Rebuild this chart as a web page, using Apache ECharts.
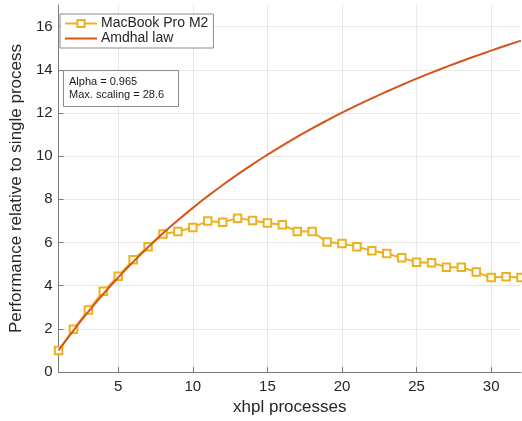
<!DOCTYPE html>
<html>
<head>
<meta charset="utf-8">
<script src="https://cdn.jsdelivr.net/npm/echarts@6/dist/echarts.min.js"></script>
<style>
  html, body { margin: 0; padding: 0; background: #fff; }
  #chart { width: 522px; height: 421px; }
</style>
</head>
<body>
<div id="chart"></div>
<script>
// Number of xhpl processes
const processes = [1,2,3,4,5,6,7,8,9,10,11,12,13,14,15,16,17,18,19,20,21,22,23,24,25,26,27,28,29,30,31,32];

// Measured speed-up on the MacBook Pro M2
const macbook = [1.00,1.99,2.88,3.74,4.44,5.20,5.81,6.39,6.51,6.70,7.00,6.94,7.13,7.02,6.90,6.82,
                 6.51,6.51,6.02,5.96,5.81,5.62,5.49,5.29,5.09,5.06,4.86,4.86,4.63,4.38,4.41,4.38];

// Amdahl's law fit (alpha = 0.965)
const amdahl = [1.000,1.932,2.804,3.620,4.386,5.106,5.785,6.426,7.031,7.605,8.148,8.664,9.155,9.622,10.067,10.492,
                10.897,11.285,11.656,12.012,12.353,12.680,12.994,13.296,13.587,13.867,14.136,14.396,14.646,14.888,15.122,15.348];

const xTicks = [5,10,15,20,25,30];
const yTicks = [0,2,4,6,8,10,12,14,16];

const FONT = '"Liberation Sans", Arial, Helvetica, sans-serif';
const AXIS_COLOR = '#7a7a7a';
const GRID_COLOR = '#e8e8e8';
const YELLOW = '#EDB120';
const ORANGE = '#D95319';

const chart = echarts.init(document.getElementById('chart'), null, { renderer: 'canvas' });

chart.setOption({
  animation: false,
  backgroundColor: '#ffffff',
  textStyle: { fontFamily: FONT },
  grid: { left: 52, right: 1, top: 5, bottom: 46, containLabel: false },
  legend: {
    left: 60, top: 14,
    orient: 'vertical',
    padding: [2, 5, 2, 4],
    itemGap: 0,
    itemWidth: 32,
    itemHeight: 9,
    backgroundColor: '#ffffff',
    borderColor: '#8a8a8a',
    borderWidth: 1,
    borderRadius: 0,
    textStyle: { fontFamily: FONT, fontSize: 14, lineHeight: 15, color: '#262626', padding: [0, 0, 0, -1] },
    data: [
      { name: 'MacBook Pro M2' },
      { name: 'Amdhal law', icon: 'path://M0,0 L32,0 L32,2 L0,2 Z', itemHeight: 2 }
    ]
  },
  xAxis: {
    type: 'value',
    min: 1, max: 32,
    name: 'xhpl processes',
    nameLocation: 'middle',
    nameGap: 21,
    nameTextStyle: { fontFamily: FONT, fontSize: 17, color: '#262626' },
    axisLine: { show: true, lineStyle: { color: AXIS_COLOR, width: 1 } },
    axisTick: { show: true, inside: true, length: 5, customValues: xTicks, lineStyle: { color: AXIS_COLOR } },
    axisLabel: { customValues: xTicks, fontFamily: FONT, fontSize: 15, color: '#262626', margin: 7 },
    splitLine: { show: false }
  },
  yAxis: {
    type: 'value',
    min: 0, max: 17,
    name: 'Performance relative to single process',
    nameLocation: 'middle',
    nameGap: 30,
    nameTextStyle: { fontFamily: FONT, fontSize: 17, color: '#262626' },
    axisLine: { show: true, lineStyle: { color: AXIS_COLOR, width: 1 } },
    axisTick: { show: true, inside: true, length: 5, customValues: yTicks, lineStyle: { color: AXIS_COLOR } },
    axisLabel: { customValues: yTicks, fontFamily: FONT, fontSize: 15, color: '#262626', margin: 6 },
    splitLine: { show: false }
  },
  series: [
    {
      name: 'MacBook Pro M2',
      type: 'line',
      data: processes.map((p, i) => [p, macbook[i]]),
      symbol: 'rect',
      symbolSize: 7.5,
      showAllSymbol: true,
      z: 3,
      lineStyle: { color: YELLOW, width: 2 },
      itemStyle: { color: '#ffffff', borderColor: YELLOW, borderWidth: 2 },
      markLine: {
        silent: true,
        symbol: 'none',
        label: { show: false },
        lineStyle: { color: GRID_COLOR, width: 1, type: 'solid' },
        z: 0,
        data: xTicks.map(v => ({ xAxis: v })).concat(yTicks.slice(1).map(v => ({ yAxis: v })))
      }
    },
    {
      name: 'Amdhal law',
      type: 'line',
      data: processes.map((p, i) => [p, amdahl[i]]),
      smooth: true,
      showSymbol: false,
      symbol: 'none',
      z: 4,
      lineStyle: { color: ORANGE, width: 2 },
      itemStyle: { color: ORANGE }
    }
  ],
  graphic: [
    {
      type: 'rect',
      shape: { x: 63.5, y: 70.5, width: 115, height: 36 },
      style: { fill: '#ffffff', stroke: '#8a8a8a', lineWidth: 1 },
      z: 100
    },
    {
      type: 'text',
      x: 69, y: 75,
      style: {
        text: 'Alpha = 0.965\nMax. scaling = 28.6',
        fontFamily: FONT,
        fontSize: 11,
        lineHeight: 13,
        fill: '#1a1a1a'
      },
      z: 101
    }
  ]
});
</script>
</body>
</html>
